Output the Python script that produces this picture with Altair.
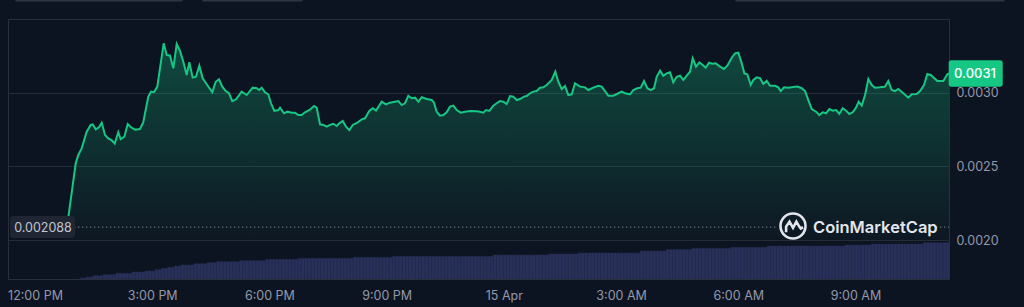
import altair as alt
import pandas as pd

# ---- data (hours after 12:00 PM, 14 Apr) ----
hours = [0.819, 1.042, 1.108, 1.195, 1.323, 1.426, 1.477, 1.554, 1.638, 1.707, 1.792, 1.876, 1.963, 2.040,
         2.132, 2.193, 2.286, 2.373, 2.457, 2.560, 2.687, 2.772, 2.841, 2.900, 2.969, 3.046, 3.130, 3.199,
         3.294, 3.371, 3.455, 3.540, 3.627, 3.711, 3.796, 3.883, 3.949, 4.036, 4.121, 4.205, 4.292, 4.395,
         4.538, 4.625, 4.709, 4.794, 4.881, 4.965, 5.050, 5.145, 5.291, 5.418, 5.572, 5.674, 5.741, 5.802,
         5.887, 5.971, 6.040, 6.125, 6.227, 6.271, 6.373, 6.458, 6.570, 6.655, 6.739, 6.826, 6.911, 7.039,
         7.141, 7.210, 7.295, 7.379, 7.466, 7.551, 7.635, 7.722, 7.789, 7.876, 7.960, 8.045, 8.132, 8.249,
         8.362, 8.446, 8.556, 8.643, 8.728, 8.874, 8.984, 9.086, 9.214, 9.299, 9.386, 9.470, 9.555, 9.642,
         9.726, 9.811, 9.898, 10.025, 10.154, 10.212, 10.281, 10.366, 10.450, 10.537, 10.622, 10.707, 10.794,
         10.896, 11.006, 11.134, 11.305, 11.390, 11.474, 11.543, 11.628, 11.730, 11.817, 11.902, 11.986,
         12.073, 12.158, 12.242, 12.329, 12.414, 12.516, 12.585, 12.670, 12.754, 12.841, 12.925, 13.010,
         13.097, 13.225, 13.317, 13.394, 13.481, 13.565, 13.650, 13.737, 13.821, 13.949, 14.077, 14.162,
         14.290, 14.418, 14.504, 14.589, 14.674, 14.802, 14.930, 15.017, 15.101, 15.229, 15.314, 15.416,
         15.503, 15.587, 15.672, 15.759, 15.843, 15.912, 15.997, 16.081, 16.168, 16.253, 16.337, 16.424,
         16.509, 16.593, 16.680, 16.765, 16.834, 16.918, 17.003, 17.090, 17.166, 17.251, 17.336, 17.423,
         17.533, 17.635, 17.720, 17.832, 17.917, 18.001, 18.088, 18.155, 18.231, 18.318, 18.385, 18.472,
         18.556, 18.641, 18.728, 18.812, 18.940, 19.025, 19.086, 19.171, 19.281, 19.409, 19.511, 19.624,
         19.708, 19.793, 19.880, 19.990, 20.075, 20.162, 20.246, 20.330, 20.417, 20.502, 20.586, 20.673,
         20.758, 20.842, 20.929, 21.013, 21.082, 21.159, 21.244, 21.329, 21.415, 21.500, 21.628, 21.756,
         21.840, 21.927, 22.012, 22.096, 22.224, 22.352, 22.439, 22.567, 22.652, 22.754, 22.838, 22.925,
         23.094, 23.248, 23.350, 23.393]
prices = [0.002088, 0.002521, 0.002577, 0.002622, 0.002735, 0.002781, 0.002785, 0.002751, 0.002765, 0.002796,
          0.002713, 0.002690, 0.002677, 0.002654, 0.002731, 0.002684, 0.002701, 0.002787, 0.002765, 0.002749,
          0.002753, 0.002799, 0.002894, 0.002973, 0.003007, 0.003003, 0.003041, 0.003165, 0.003335, 0.003256,
          0.003251, 0.003165, 0.003330, 0.003283, 0.003210, 0.003120, 0.003206, 0.003102, 0.003108, 0.003183,
          0.003098, 0.003057, 0.003003, 0.003074, 0.003091, 0.003041, 0.003011, 0.002996, 0.002943, 0.002955,
          0.003007, 0.002984, 0.003034, 0.003030, 0.003018, 0.003034, 0.003003, 0.002989, 0.002928, 0.002876,
          0.002882, 0.002898, 0.002860, 0.002871, 0.002864, 0.002864, 0.002848, 0.002848, 0.002867, 0.002884,
          0.002910, 0.002898, 0.002785, 0.002781, 0.002769, 0.002781, 0.002789, 0.002774, 0.002792, 0.002808,
          0.002769, 0.002745, 0.002781, 0.002796, 0.002819, 0.002826, 0.002876, 0.002894, 0.002878, 0.002939,
          0.002921, 0.002932, 0.002939, 0.002943, 0.002916, 0.002928, 0.002979, 0.002962, 0.002966, 0.002939,
          0.002969, 0.002957, 0.002950, 0.002932, 0.002871, 0.002844, 0.002848, 0.002867, 0.002905, 0.002912,
          0.002882, 0.002864, 0.002871, 0.002876, 0.002874, 0.002871, 0.002864, 0.002882, 0.002876, 0.002912,
          0.002928, 0.002943, 0.002939, 0.002923, 0.002977, 0.002973, 0.002950, 0.002957, 0.002973, 0.002977,
          0.002996, 0.003007, 0.003011, 0.003034, 0.003036, 0.003052, 0.003086, 0.003142, 0.003074, 0.003025,
          0.003045, 0.002984, 0.002989, 0.003064, 0.003041, 0.003036, 0.003018, 0.003034, 0.003047, 0.003041,
          0.003011, 0.002979, 0.002979, 0.002996, 0.003007, 0.002996, 0.002989, 0.003018, 0.003030, 0.003034,
          0.003079, 0.003030, 0.003018, 0.003030, 0.003108, 0.003149, 0.003115, 0.003131, 0.003138, 0.003070,
          0.003108, 0.003115, 0.003086, 0.003115, 0.003142, 0.003233, 0.003176, 0.003206, 0.003188, 0.003169,
          0.003203, 0.003197, 0.003199, 0.003176, 0.003161, 0.003183, 0.003237, 0.003267, 0.003271, 0.003199,
          0.003131, 0.003125, 0.003052, 0.003086, 0.003104, 0.003098, 0.003059, 0.003081, 0.003047, 0.003047,
          0.003036, 0.003011, 0.003036, 0.003034, 0.003038, 0.003041, 0.003030, 0.003011, 0.002950, 0.002889,
          0.002871, 0.002848, 0.002867, 0.002860, 0.002889, 0.002878, 0.002882, 0.002857, 0.002894, 0.002878,
          0.002855, 0.002867, 0.002898, 0.002939, 0.002912, 0.002984, 0.003093, 0.003052, 0.003034, 0.003036,
          0.003041, 0.003079, 0.003018, 0.003011, 0.003025, 0.002996, 0.002966, 0.002989, 0.002991, 0.003011,
          0.003052, 0.003127, 0.003120, 0.003079, 0.003079, 0.003125, 0.003130]

# volume (arbitrary units): plateau levels and how many 5-minute bars each lasts
vol_levels = [1, 2, 3.3, 4.3, 5.7, 7, 8, 9.3, 10.7, 11.7, 13, 14, 15.3, 16.3, 17.3, 18.3, 19.7, 20.7,
              21.7, 22.7, 24, 25, 26, 28, 29.5, 30.7, 31.7, 33, 34, 35, 36.3]
vol_runs = [2, 2, 3, 4, 5, 4, 3, 2, 2, 2, 2, 4, 4, 3, 7, 8, 10, 17, 12, 31, 17, 9, 19, 8, 8, 12, 11, 24,
            8, 16, 8]
vol_start = 1.15
vol_step = 5 / 60

x_tick_values = [0, 3, 6, 9, 12, 15, 18, 21]
x_tick_labels = ["12:00 PM", "3:00 PM", "6:00 PM", "9:00 PM", "15 Apr", "3:00 AM", "6:00 AM", "9:00 AM"]
price_ticks = [0.0020, 0.0025, 0.0030]
open_price = 0.002088
x_domain = [-0.691, 23.393]
price_domain = [0.0017353, 0.0035]
vol_domain = [0, 260]

# ---- tables ----
price_df = pd.DataFrame({"h": hours, "p": prices})
rows = []
i = 0
for lvl, n in zip(vol_levels, vol_runs):
    for _ in range(n):
        t0 = vol_start + i * vol_step
        rows.append({"t0": t0, "t1": t0 + vol_step, "v": lvl})
        i += 1
vol_df = pd.DataFrame(rows)
open_df = pd.DataFrame({"p": [open_price]})
last_df = pd.DataFrame({"p": [prices[-1]]})

BG = "#0d1421"
GREEN = "#16c784"
LABEL = "#9398aa"
FONT = "Inter"

x_scale = alt.Scale(domain=x_domain, nice=False, zero=False)
p_scale = alt.Scale(domain=price_domain, nice=False, zero=False)
v_scale = alt.Scale(domain=vol_domain, nice=False)

label_expr = "[" + ",".join("'%s'" % s for s in x_tick_labels) + "][round(datum.value/3)]"
x_axis = alt.Axis(values=x_tick_values, labelExpr=label_expr, grid=False, ticks=False, domain=False,
                  labelColor=LABEL, labelFont=FONT, labelFontSize=12.5, labelPadding=10,
                  labelFlush=False, labelOverlap=False, title=None)
y_axis = alt.Axis(values=price_ticks, format=".4f", orient="right", grid=True, gridColor="#262b38",
                  ticks=False, domain=False, labelColor=LABEL, labelFont=FONT, labelFontSize=12.5,
                  labelPadding=7, labelBaseline="middle", title=None)

volume = alt.Chart(vol_df).mark_rect(color="#29315a", stroke="#222a4c", strokeWidth=0.5, clip=True).encode(
    x=alt.X("t0:Q", scale=x_scale, axis=x_axis),
    x2="t1:Q",
    y=alt.Y("v:Q", scale=v_scale, axis=None),
    y2=alt.datum(0),
)

grad = alt.Gradient(
    gradient="linear",
    stops=[alt.GradientStop(color="rgba(22,199,132,0.30)", offset=0),
           alt.GradientStop(color="rgba(22,199,132,0.02)", offset=1)],
    x1=1, x2=1, y1=0, y2=1,
)
area = alt.Chart(price_df).mark_area(color=grad).encode(
    x=alt.X("h:Q", scale=x_scale, axis=x_axis),
    y=alt.Y("p:Q", scale=p_scale, axis=y_axis),
    y2=alt.datum(0.0020),
)
line = alt.Chart(price_df).mark_line(color=GREEN, strokeWidth=2).encode(
    x=alt.X("h:Q", scale=x_scale, axis=x_axis),
    y=alt.Y("p:Q", scale=p_scale, axis=None),
)

def dotted(x1, x2):
    return alt.Chart(open_df).mark_rule(color="#6b7183", strokeWidth=1.3, strokeDash=[1.3, 2.7]).encode(
        x=alt.value(x1), x2=alt.value(x2), y=alt.Y("p:Q", scale=p_scale, axis=None))

def rrect(hy):
    r = 0.1
    return ("M-0.9,-{h} L0.9,-{h} Q1,-{h} 1,-{hr} L1,{hr} Q1,{h} 0.9,{h} L-0.9,{h} "
            "Q-1,{h} -1,{hr} L-1,-{hr} Q-1,-{h} -0.9,-{h} Z").format(h=hy, hr=round(hy - r, 3))

open_box = alt.Chart(open_df).mark_point(shape=rrect(0.338), filled=True, size=65 * 65, color="#1f2532",
                                         opacity=1).encode(
    x=alt.value(34.5), y=alt.Y("p:Q", scale=p_scale, axis=None))
open_text = alt.Chart(open_df).mark_text(font=FONT, fontSize=12.5, color="#c3c7d2", baseline="middle",
                                         dy=1).encode(
    x=alt.value(35), y=alt.Y("p:Q", scale=p_scale, axis=None), text=alt.Text("p:Q", format=".6f"))

last_box = alt.Chart(last_df).mark_point(shape=rrect(0.493), filled=True, size=54 * 54, color=GREEN,
                                         opacity=1).encode(
    x=alt.value(967.7), y=alt.Y("p:Q", scale=p_scale, axis=None))
last_text = alt.Chart(last_df).mark_text(font=FONT, fontSize=13, fontWeight=500, color="#ffffff",
                                         baseline="middle").encode(
    x=alt.value(967), y=alt.Y("p:Q", scale=p_scale, axis=None), text=alt.Text("p:Q", format=".4f"))

logo_icon = alt.Chart(open_df).mark_point(
    shape="M-1,0 A1,1 0 1,0 1,0 A1,1 0 1,0 -1,0 M-0.55,0.5 L-0.55,0.05 L-0.28,-0.35 L0,0.15 "
          "L0.27,-0.35 L0.5,0.05 L0.62,0.2 L0.8,0.1",
    filled=False, size=625, color="#e4e6ec", strokeWidth=2.6, opacity=1,
).encode(x=alt.value(785), y=alt.value(207))
logo_text = alt.Chart(open_df).mark_text(text="CoinMarketCap", font=FONT, fontSize=16.5, fontWeight=600,
                                         color="#e4e6ec", align="left", baseline="middle").encode(
    x=alt.value(805), y=alt.value(209))

def top_tab(x1, x2):
    return alt.Chart(open_df).mark_rule(color="#2f3543", strokeWidth=1.5, strokeCap="round").encode(
        x=alt.value(x1), x2=alt.value(x2), y=alt.value(-18.3))

chart = alt.layer(
    volume, area, line, dotted(66, 768), dotted(928, 941), open_box, open_text,
    last_box, last_text, logo_icon, logo_text,
    top_tab(8, 174), top_tab(195, 294), top_tab(728, 996),
).resolve_scale(y="independent").properties(
    width=941, height=260, autosize="none",
    padding={"left": 8, "top": 19, "right": 75, "bottom": 28},
    background=BG,
).configure_view(stroke="#2a2f3c", strokeWidth=1)

chart.save("out.html", embed_options={"renderer": "svg", "actions": False})
